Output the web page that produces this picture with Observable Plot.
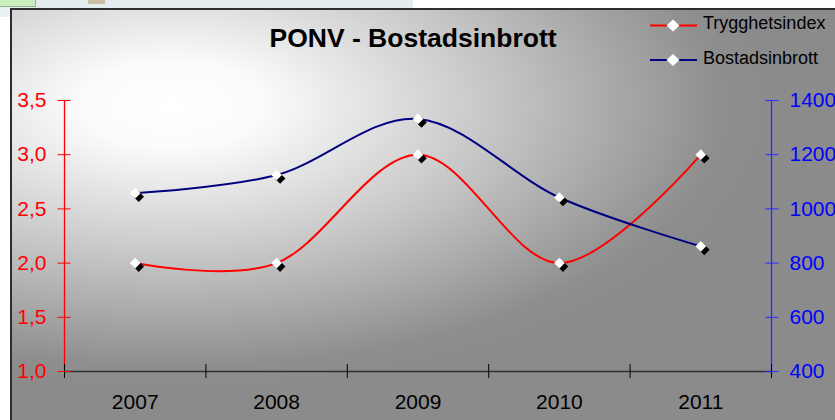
<!DOCTYPE html>
<html><head><meta charset="utf-8">
<script src="https://cdn.jsdelivr.net/npm/d3@7"></script>
<script src="https://cdn.jsdelivr.net/npm/@observablehq/plot@0.6"></script>
<style>
html,body{margin:0;padding:0;background:#fff;}
body{width:835px;height:420px;overflow:hidden;position:relative;font-family:"Liberation Sans",Arial,sans-serif;}
#strip{position:absolute;left:0;top:0;width:413px;height:8px;background:#e3edef;}
#leftstrip{position:absolute;left:0;top:8px;width:10px;height:9px;background:#e9f0f1;}
#green{position:absolute;left:0;top:0;width:35px;height:6px;background:#c8efbd;border-right:1px solid #8fb88f;border-bottom:1px solid #8fb88f;}
#tan{position:absolute;left:88px;top:0;width:17px;height:4px;background:#cdbfa2;}
#frame{position:absolute;left:10px;top:8px;width:840px;height:430px;border-left:2px solid #2e2e2e;border-top:2px solid #2e2e2e;
  background:radial-gradient(ellipse 600px 285px at 160px 95px,#ffffff 0%,#fbfbfb 15%,#c4c4c4 55%,#8e8e8e 92%,#8b8b8b 100%);}
#chart{position:absolute;left:0;top:0;}
#title{position:absolute;left:413px;top:24.5px;transform:translateX(-50%);font-weight:bold;font-size:26.5px;line-height:1;white-space:nowrap;color:#000;}
.legtext{position:absolute;left:703px;font-size:18px;line-height:1;white-space:nowrap;color:#000;}
#legsvg{position:absolute;left:0;top:0;}
</style>
</head><body>
<div id="strip"></div><div id="leftstrip"></div><div id="green"></div><div id="tan"></div>
<div id="frame"></div>
<div id="chart"></div>
<div id="title">PONV - Bostadsinbrott</div>
<div id="legend"></div>
<script>
const years = ["2007", "2008", "2009", "2010", "2011"];
const trygghetsindex = [2.0, 2.0, 3.0, 2.0, 3.0];
const bostadsinbrott = [1058, 1125, 1332, 1042, 862];
const leftTicks = [1.0, 1.5, 2.0, 2.5, 3.0, 3.5];
const rightTicks = [400, 600, 800, 1000, 1200, 1400];
const seriesNames = ["Trygghetsindex", "Bostadsinbrott"];
const seriesColors = ["#ff0000", "#000080"];

const leftDomain = [1, 3.5];
const rightDomain = [400, 1400];
const toLeft = v => leftDomain[0] + (v - rightDomain[0]) / (rightDomain[1] - rightDomain[0]) * (leftDomain[1] - leftDomain[0]);
const toRight = v => rightDomain[0] + (v - leftDomain[0]) / (leftDomain[1] - leftDomain[0]) * (rightDomain[1] - rightDomain[0]);
const idx = years.map((_, i) => i);
const xDomain = [-0.5, years.length - 0.5];
const boundaries = d3.range(years.length + 1).map(i => i - 0.5);
const redData = idx.map(i => ({i, v: trygghetsindex[i]}));
const blueData = idx.map(i => ({i, v: toLeft(bostadsinbrott[i])}));
const rightTicksL = rightTicks.map(toLeft);
const dec = d => d.toFixed(1).replace(".", ",");
const R = 4.8;

const chart = Plot.plot({
  width: 835, height: 420,
  marginLeft: 64, marginRight: 64, marginTop: 100, marginBottom: 49,
  style: {background: "transparent", fontFamily: "'Liberation Sans', Arial, sans-serif", fontSize: "21px", overflow: "visible"},
  x: {type: "linear", domain: xDomain, label: null},
  y: {domain: leftDomain, label: null},
  marks: [
    Plot.ruleY([leftDomain[0]], {stroke: "#303030", strokeWidth: 1.5}),
    Plot.ruleX([xDomain[0]], {stroke: "#ff0000", strokeWidth: 1.3}),
    Plot.ruleX([xDomain[1]], {stroke: "#2a2aff", strokeWidth: 1.3}),
    Plot.axisX({ticks: boundaries, tickSize: 14, dy: -7, fill: "none", stroke: "#000", label: null}),
    Plot.axisX({ticks: idx, tickSize: 0, tickPadding: 23, tickFormat: i => years[i], fill: "#000", stroke: "none", label: null}),
    Plot.axisY({anchor: "left", ticks: leftTicks, tickSize: 13, dx: 6.5, stroke: "#ff0000", fill: "none", label: null}),
    Plot.axisY({anchor: "left", ticks: leftTicks, tickSize: 0, tickPadding: 18, tickFormat: dec, fill: "#ff0000", stroke: "none", label: null}),
    Plot.axisY({anchor: "right", ticks: rightTicksL, tickSize: 13, dx: -6.5, stroke: "#2a2aff", fill: "none", label: null}),
    Plot.axisY({anchor: "right", ticks: rightTicksL, tickSize: 0, tickPadding: 18, tickFormat: v => String(Math.round(toRight(v))), fill: "#0000ff", stroke: "none", label: null}),
    Plot.line(redData, {x: "i", y: "v", stroke: seriesColors[0], strokeWidth: 2, curve: "cardinal"}),
    Plot.line(blueData, {x: "i", y: "v", stroke: seriesColors[1], strokeWidth: 2, curve: "cardinal"}),
    Plot.dot(redData, {x: "i", y: "v", symbol: "diamond2", r: R, fill: "#000", stroke: "none", dx: 3.5, dy: 3.5}),
    Plot.dot(blueData, {x: "i", y: "v", symbol: "diamond2", r: R, fill: "#000", stroke: "none", dx: 3.5, dy: 3.5}),
    Plot.dot(redData, {x: "i", y: "v", symbol: "diamond2", r: R, fill: "#fff", stroke: "none"}),
    Plot.dot(blueData, {x: "i", y: "v", symbol: "diamond2", r: R, fill: "#fff", stroke: "none"})
  ]
});
document.getElementById("chart").appendChild(chart);

// legend
const legend = document.getElementById("legend");
const ns = "http://www.w3.org/2000/svg";
const lsvg = document.createElementNS(ns, "svg");
lsvg.setAttribute("id", "legsvg");
lsvg.setAttribute("width", 835); lsvg.setAttribute("height", 90);
const legY = [25.5, 60];
seriesNames.forEach((name, k) => {
  const y = legY[k];
  const ln = document.createElementNS(ns, "line");
  ln.setAttribute("x1", 650); ln.setAttribute("x2", 697);
  ln.setAttribute("y1", y); ln.setAttribute("y2", y);
  ln.setAttribute("stroke", seriesColors[k]); ln.setAttribute("stroke-width", 2);
  lsvg.appendChild(ln);
  const dm = document.createElementNS(ns, "path");
  dm.setAttribute("d", `M673,${y-6}L679.5,${y}L673,${y+6}L666.5,${y}Z`);
  dm.setAttribute("fill", "#fff");
  lsvg.appendChild(dm);
  const t = document.createElement("div");
  t.className = "legtext";
  t.style.top = (y - 11.2) + "px";
  t.textContent = name;
  legend.appendChild(t);
});
legend.appendChild(lsvg);
</script>
</body></html>
